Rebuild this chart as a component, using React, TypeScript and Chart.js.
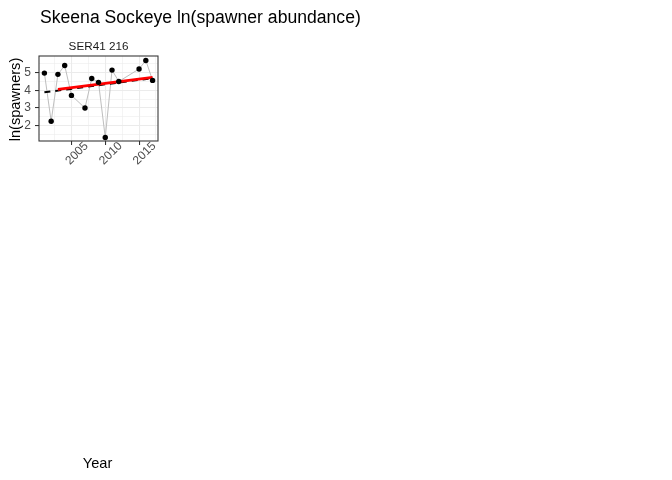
import React, { useEffect, useRef } from "react";
import { Chart, registerables } from "chart.js";

Chart.register(...registerables);

// ---- data ----
const years = [2001, 2002, 2003, 2004, 2005, 2007, 2008, 2009, 2010, 2011, 2012, 2015, 2016, 2017];
const lnSpawners = [4.96, 2.26, 4.89, 5.39, 3.71, 3.0, 4.66, 4.44, 1.35, 5.13, 4.49, 5.19, 5.67, 4.55];
const fullTrendYears = [2001, 2017];
const fullTrendValues = [3.88, 4.68];
const recentTrendYears = [2003, 2017];
const recentTrendValues = [4.05, 4.72];
const xTicks = [2002.5, 2005, 2007.5, 2010, 2012.5, 2015, 2017.5];
const xMajorTicks = [2005, 2010, 2015];
const yTicks = [1.5, 2, 2.5, 3, 3.5, 4, 4.5, 5, 5.5];
const yMajorTicks = [2, 3, 4, 5];
const titleText = "Skeena Sockeye ln(spawner abundance)";
const panelLabel = "SER41 216";
const xTitle = "Year";
const yTitle = "ln(spawners)";

const FONT = "'Liberation Sans', Arial, sans-serif";

const decorPlugin = {
  id: "decor",
  beforeDraw(chart: any) {
    const ctx = chart.ctx;
    ctx.save();
    ctx.fillStyle = "#ffffff";
    ctx.fillRect(0, 0, chart.width, chart.height);
    ctx.restore();
  },
  afterDatasetsDraw(chart: any) {
    const { ctx, chartArea } = chart;
    ctx.save();
    ctx.strokeStyle = "#333333";
    ctx.lineWidth = 1.07;
    ctx.strokeRect(chartArea.left, chartArea.top, chartArea.right - chartArea.left, chartArea.bottom - chartArea.top);
    ctx.restore();
  },
  afterDraw(chart: any) {
    const { ctx, chartArea } = chart;
    const cx = (chartArea.left + chartArea.right) / 2;
    const cy = (chartArea.top + chartArea.bottom) / 2;
    ctx.save();
    ctx.fillStyle = "#000000";
    ctx.textBaseline = "alphabetic";
    ctx.textAlign = "left";
    ctx.font = `17.6px ${FONT}`;
    ctx.fillText(titleText, 40, 23);
    ctx.fillStyle = "#1A1A1A";
    ctx.textAlign = "center";
    ctx.font = `11.7px ${FONT}`;
    ctx.fillText(panelLabel, cx, 50);
    ctx.fillStyle = "#000000";
    ctx.font = `14.6px ${FONT}`;
    ctx.fillText(xTitle, cx - 1, 468);
    ctx.translate(20, cy + 1);
    ctx.rotate(-Math.PI / 2);
    ctx.fillText(yTitle, 0, 0);
    ctx.restore();
  },
};

export default function App() {
  const ref = useRef<HTMLCanvasElement>(null);
  useEffect(() => {
    if (!ref.current) return;
    const isMajorX = (v: number) => xMajorTicks.includes(v);
    const isMajorY = (v: number) => yMajorTicks.includes(v);
    const chart = new Chart(ref.current, {
      type: "scatter",
      data: {
        datasets: [
          {
            label: "points",
            data: years.map((y, i) => ({ x: y, y: lnSpawners[i] })),
            showLine: false,
            pointRadius: 2.7,
            pointBackgroundColor: "#000000",
            pointBorderColor: "#000000",
            pointBorderWidth: 0,
            order: 0,
          },
          {
            label: "recent trend",
            data: recentTrendYears.map((y, i) => ({ x: y, y: recentTrendValues[i] })),
            showLine: true,
            borderColor: "#FF0000",
            borderWidth: 2.8,
            pointRadius: 0,
            order: 1,
          },
          {
            label: "full trend",
            data: fullTrendYears.map((y, i) => ({ x: y, y: fullTrendValues[i] })),
            showLine: true,
            borderColor: "#000000",
            borderWidth: 2,
            borderDash: [6, 5],
            pointRadius: 0,
            order: 2,
          },
          {
            label: "series",
            data: years.map((y, i) => ({ x: y, y: lnSpawners[i] })),
            showLine: true,
            borderColor: "#BEBEBE",
            borderWidth: 1,
            pointRadius: 0,
            order: 3,
          },
        ],
      },
      options: {
        responsive: false,
        animation: false,
        events: [],
        layout: { padding: { left: 9, top: 56, right: 514, bottom: 299 } },
        plugins: { legend: { display: false }, tooltip: { enabled: false }, title: { display: false } },
        scales: {
          x: {
            type: "linear",
            min: 2000.2,
            max: 2017.8,
            afterBuildTicks: (s: any) => {
              s.ticks = xTicks.map((v) => ({ value: v }));
            },
            afterFit: (s: any) => {
              s.height = 40;
            },
            border: { display: false },
            grid: {
              color: "#EBEBEB",
              lineWidth: (c: any) => (c.tick && isMajorX(c.tick.value) ? 1.07 : 0.55),
              drawTicks: true,
              tickLength: 4,
              tickWidth: 1.07,
              tickColor: (c: any) => (c.tick && isMajorX(c.tick.value) ? "#333333" : "rgba(0,0,0,0)"),
            },
            ticks: {
              autoSkip: false,
              minRotation: 45,
              maxRotation: 45,
              padding: -6,
              labelOffset: 15,
              color: "#4D4D4D",
              font: { family: FONT, size: 12 },
              callback: (v: any) => (isMajorX(Number(v)) ? String(v) : ""),
            },
          },
          y: {
            type: "linear",
            min: 1.15,
            max: 5.92,
            afterBuildTicks: (s: any) => {
              s.ticks = yTicks.map((v) => ({ value: v }));
            },
            afterFit: (s: any) => {
              s.width = 30;
            },
            border: { display: false },
            grid: {
              color: "#EBEBEB",
              lineWidth: (c: any) => (c.tick && isMajorY(c.tick.value) ? 1.07 : 0.55),
              drawTicks: true,
              tickLength: 4,
              tickWidth: 1.07,
              tickColor: (c: any) => (c.tick && isMajorY(c.tick.value) ? "#333333" : "rgba(0,0,0,0)"),
            },
            ticks: {
              autoSkip: false,
              padding: 4,
              color: "#4D4D4D",
              font: { family: FONT, size: 12 },
              callback: (v: any) => (isMajorY(Number(v)) ? String(v) : ""),
            },
          },
        },
      },
      plugins: [decorPlugin],
    } as any);
    return () => chart.destroy();
  }, []);
  return (
    <div style={{ position: "fixed", left: 0, top: 0, width: 672, height: 480, background: "#fff" }}>
      <canvas ref={ref} width={672} height={480} style={{ display: "block", width: 672, height: 480 }} />
    </div>
  );
}
